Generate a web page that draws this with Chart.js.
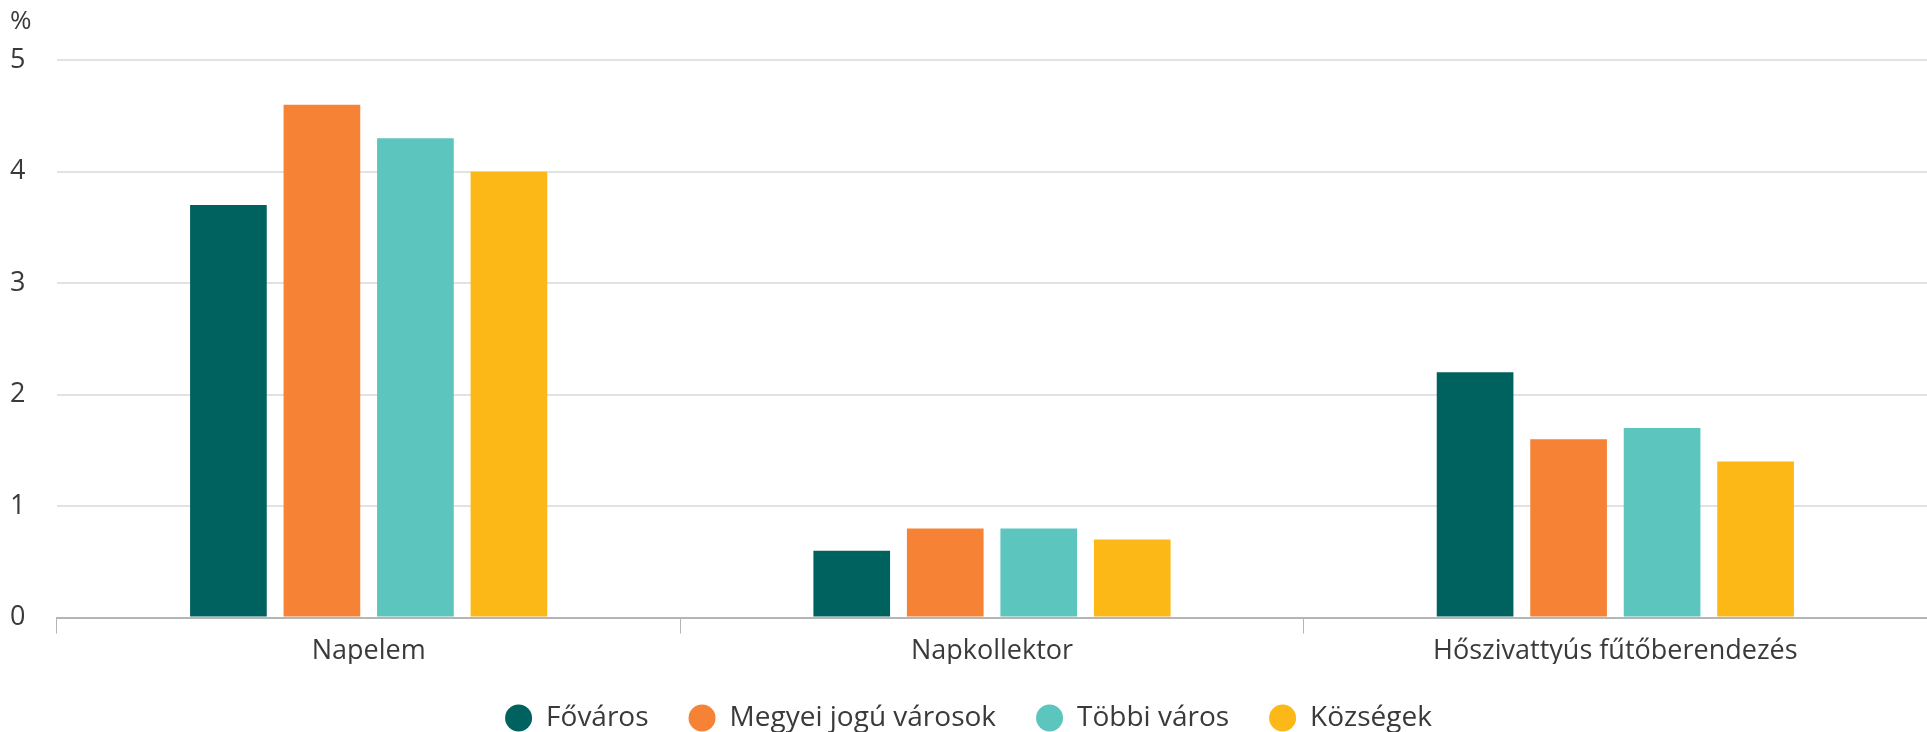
<!DOCTYPE html>
<html>
<head>
<meta charset="utf-8">
<script src="https://cdn.jsdelivr.net/npm/chart.js@4"></script>
<style>
  html, body { margin: 0; padding: 0; background: #fff; }
  #wrap { width: 1927px; height: 732px; position: relative; }
</style>
</head>
<body>
<div id="wrap"><canvas id="myChart"></canvas></div>
<script>
var categories = ['Napelem', 'Napkollektor', 'Hőszivattyús fűtőberendezés'];
var seriesNames = ['Főváros', 'Megyei jogú városok', 'Többi város', 'Községek'];
var fovaros = [3.7, 0.6, 2.2];
var megyei = [4.6, 0.8, 1.6];
var tobbi = [4.3, 0.8, 1.7];
var kozsegek = [4.0, 0.7, 1.4];
var colors = ['#00625f', '#f58235', '#5bc5be', '#fbb817'];

Chart.defaults.font.family = '"Open Sans", "Noto Sans", sans-serif';
Chart.defaults.color = '#3a3a3a';

var values = [fovaros, megyei, tobbi, kozsegek];
var datasets = seriesNames.map(function (name, i) {
  return {
    label: name,
    data: values[i],
    backgroundColor: colors[i],
    borderWidth: 0,
    categoryPercentage: 0.6,
    barPercentage: 0.82
  };
});

var ctx = document.getElementById('myChart');
var chart = new Chart(ctx, {
  type: 'bar',
  data: { labels: categories, datasets: datasets },
  options: {
    responsive: true,
    maintainAspectRatio: false,
    animation: false,
    layout: { padding: { left: 10, right: 0, top: 6, bottom: -10 } },
    plugins: {
      title: {
        display: true,
        text: '%',
        align: 'start',
        font: { size: 26, weight: 'normal' },
        color: '#3a3a3a',
        padding: { top: 0, bottom: 23 }
      },
      legend: {
        position: 'bottom',
        labels: {
          usePointStyle: true,
          pointStyle: 'circle',
          boxHeight: 19,
          pointStyleWidth: 27,
          padding: 40,
          font: { size: 28 },
          color: '#3a3a3a'
        }
      },
      tooltip: { enabled: false }
    },
    scales: {
      x: {
        afterFit: function (axis) { axis.height -= 6; },
        grid: {
          display: true,
          drawOnChartArea: false,
          tickLength: 16,
          color: '#b5b5b5',
          lineWidth: 1
        },
        border: { color: '#b5b5b5', width: 2 },
        ticks: { font: { size: 27 }, color: '#3a3a3a', padding: 2 }
      },
      y: {
        min: 0,
        max: 5,
        afterFit: function (axis) { axis.width = 47; },
        ticks: { stepSize: 1, font: { size: 27 }, color: '#3a3a3a', padding: 30, crossAlign: 'far' },
        grid: { color: '#e2e2e2', lineWidth: 2, drawTicks: false },
        border: { display: false }
      }
    }
  }
});
</script>
</body>
</html>
